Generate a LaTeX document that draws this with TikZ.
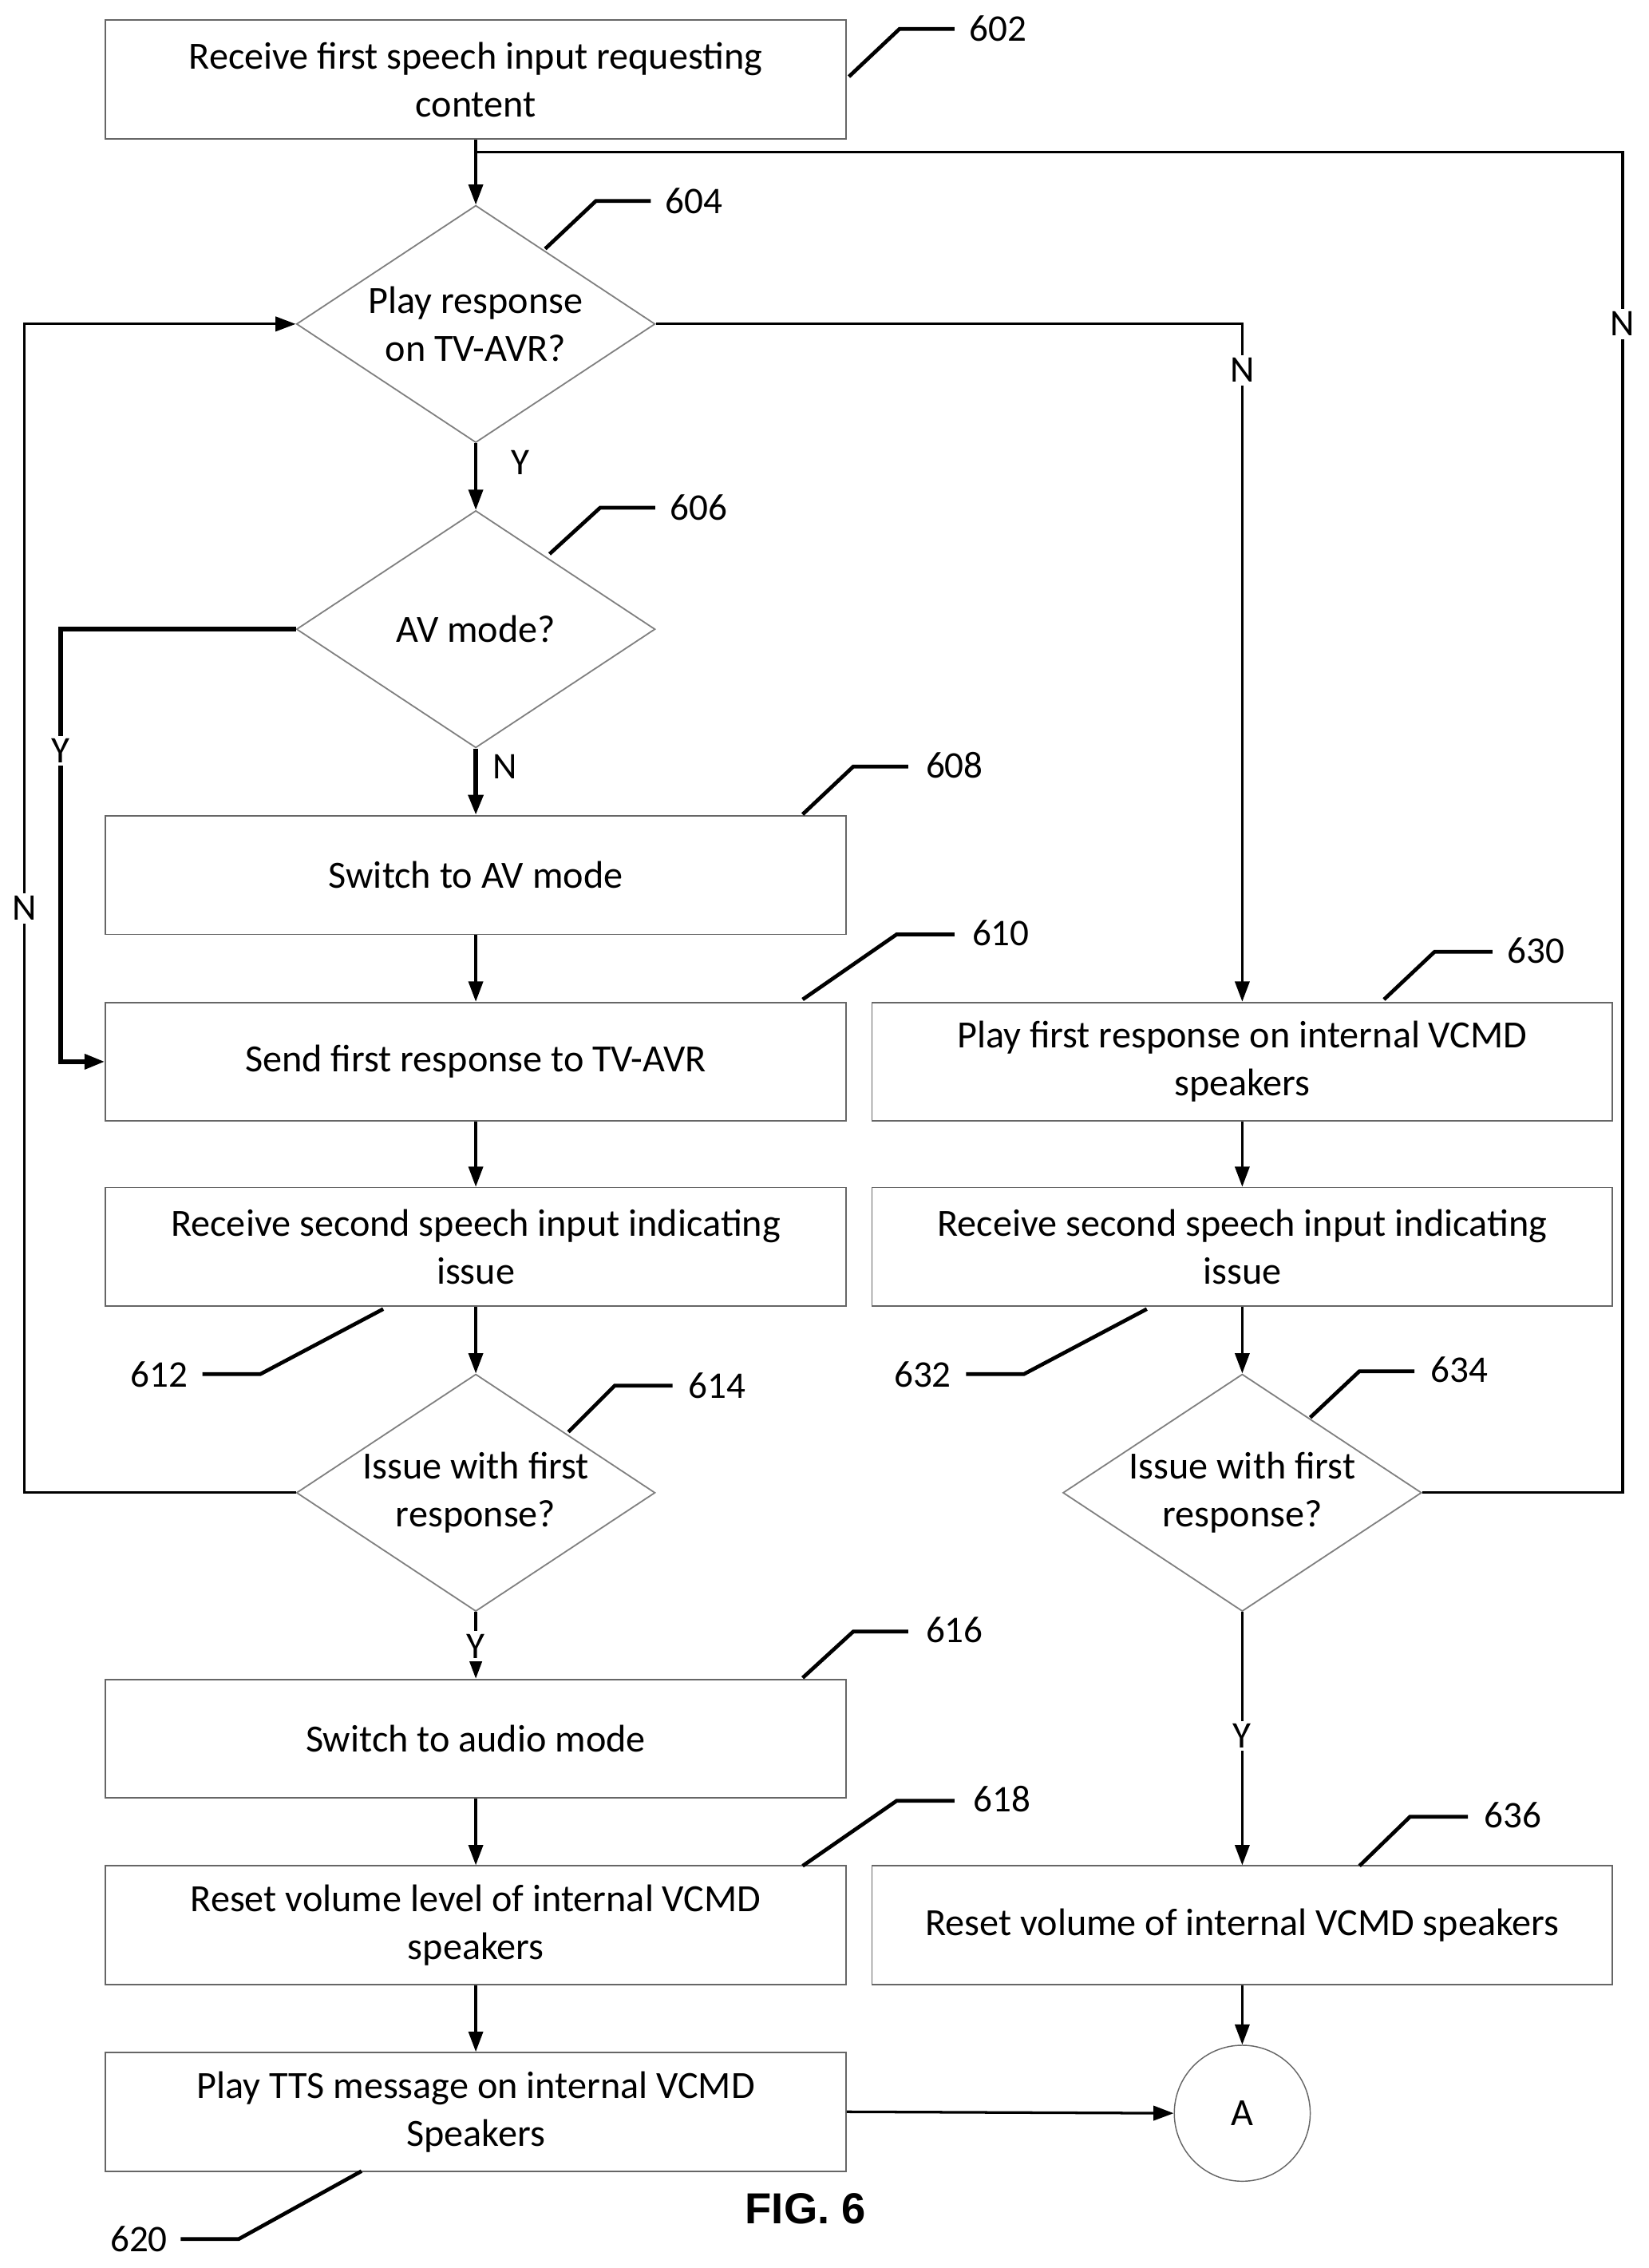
\documentclass[tikz,border=0pt]{standalone}
\usepackage{fontspec}
\setmainfont{Carlito}
\newfontfamily\figfont{Liberation Sans}
\usetikzlibrary{shapes.geometric,arrows.meta}
\begin{document}
\begin{tikzpicture}[x=0.5pt,y=-0.5pt,
  font=\fontsize{13.3}{16.5}\selectfont,
  box/.style={draw=black!60,line width=0.5pt,minimum width=256pt,minimum height=41pt,align=center,inner sep=0pt},
  dia/.style={draw=black!50,line width=0.5pt,diamond,minimum width=124pt,minimum height=82pt,inner sep=0pt},
  dt/.style={align=center,inner sep=0pt},
  arr/.style={-{Triangle[length=7pt,width=5pt]},line width=0.9pt},
  ln/.style={line width=0.9pt},
  lead/.style={line width=1.3pt},
  lab/.style={font=\fontsize{13}{14}\selectfont}]
\useasboundingbox (0,0) rectangle (1140,1568);
\node[box] (b602) at (329,55) {Receive first speech input requesting\\content};
\node[dia] (d604) at (329,224) {}; \node[dt] at (d604) {Play response\\on TV-AVR?};
\node[dia] (d606) at (329,435) {}; \node[dt] at (d606) {AV mode?};
\node[box] (b608) at (329,605) {Switch to AV mode};
\node[box] (b610) at (329,734) {Send first response to TV-AVR};
\node[box] (b612) at (329,862) {Receive second speech input indicating\\issue};
\node[dia] (d614) at (329,1032) {}; \node[dt] at (d614) {Issue with first\\response?};
\node[box] (b616) at (329,1202) {Switch to audio mode};
\node[box] (b618) at (329,1331) {Reset volume level of internal VCMD\\speakers};
\node[box] (b620) at (329,1460) {Play TTS message on internal VCMD\\Speakers};
\node[box] (b630) at (859,734) {Play first response on internal VCMD\\speakers};
\node[box] (b632) at (859,862) {Receive second speech input indicating\\issue};
\node[dia] (d634) at (859,1032) {}; \node[dt] at (d634) {Issue with first\\response?};
\node[box] (b636) at (859,1331) {Reset volume of internal VCMD speakers};
\node[draw=black!60,circle,minimum size=47pt,inner sep=0pt] (A) at (859,1461) {A};
\node[font=\figfont\fontsize{15}{18}\selectfont\bfseries] (fig) at (557,1527) {FIG. 6};

\coordinate (j) at (329,105);
\draw[arr] (b602.south) -- (d604.north);
\draw[ln] (d634.east) -- (1122,1032) -- (1122,105) -- (j);
\node[lab,fill=white,inner sep=1pt] at (1122,224) {N};
\draw[arr] (d604.east) -- (859,224) -- (b630.north);
\node[lab,fill=white,inner sep=1pt] at (859,256) {N};
\draw[arr] (d604.south) -- (d606.north);
\node[lab] at (360,320) {Y};
\draw[arr,line width=1.6pt] (d606.west) -- (42,435) -- (42,734) -- (b610.west);
\node[lab,fill=white,inner sep=1pt] at (42,519) {Y};
\draw[arr,line width=1.6pt] (d606.south) -- (b608.north);
\node[lab] at (349,530) {N};
\draw[arr] (b608) -- (b610);
\draw[arr] (b610) -- (b612);
\draw[arr] (b612) -- (d614);
\draw[arr] (d614.west) -- (17,1032) -- (17,224) -- (d604.west);
\node[lab,fill=white,inner sep=1pt] at (17,628) {N};
\draw[arr] (d614.south) -- (b616.north);
\node[lab,fill=white,inner sep=1pt] at (329,1138) {Y};
\draw[arr] (b616) -- (b618);
\draw[arr] (b618) -- (b620);
\draw[arr] (b620.east) -- (A.west);
\draw[arr] (b630) -- (b632);
\draw[arr] (b632) -- (d634);
\draw[arr] (d634.south) -- (b636.north);
\node[lab,fill=white,inner sep=1pt] at (859,1200) {Y};
\draw[arr] (b636) -- (A);

\draw[lead] (587,53)--(622,20)--(660,20); \node[lab] at (690,20) {602};
\draw[lead] (377,172)--(412,139)--(450,139); \node[lab] at (480,139) {604};
\draw[lead] (380,383)--(415,351)--(453,351); \node[lab] at (483,351) {606};
\draw[lead] (555,563)--(590,530)--(628,530); \node[lab] at (660,529) {608};
\draw[lead] (555,691)--(620,646)--(660,646); \node[lab] at (692,645) {610};
\draw[lead] (265,905)--(180,950)--(140,950); \node[lab] at (110,950) {612};
\draw[lead] (393,990)--(425,958)--(465,958); \node[lab] at (496,958) {614};
\draw[lead] (555,1160)--(590,1128)--(628,1128); \node[lab] at (660,1127) {616};
\draw[lead] (555,1290)--(620,1245)--(660,1245); \node[lab] at (693,1244) {618};
\draw[lead] (250,1501)--(165,1548)--(125,1548); \node[lab] at (96,1548) {620};
\draw[lead] (957,691)--(992,658)--(1032,658); \node[lab] at (1062,657) {630};
\draw[lead] (793,905)--(708,950)--(668,950); \node[lab] at (638,950) {632};
\draw[lead] (906,980)--(940,948)--(978,948); \node[lab] at (1009,947) {634};
\draw[lead] (940,1290)--(975,1256)--(1015,1256); \node[lab] at (1046,1255) {636};
\end{tikzpicture}
\end{document}
